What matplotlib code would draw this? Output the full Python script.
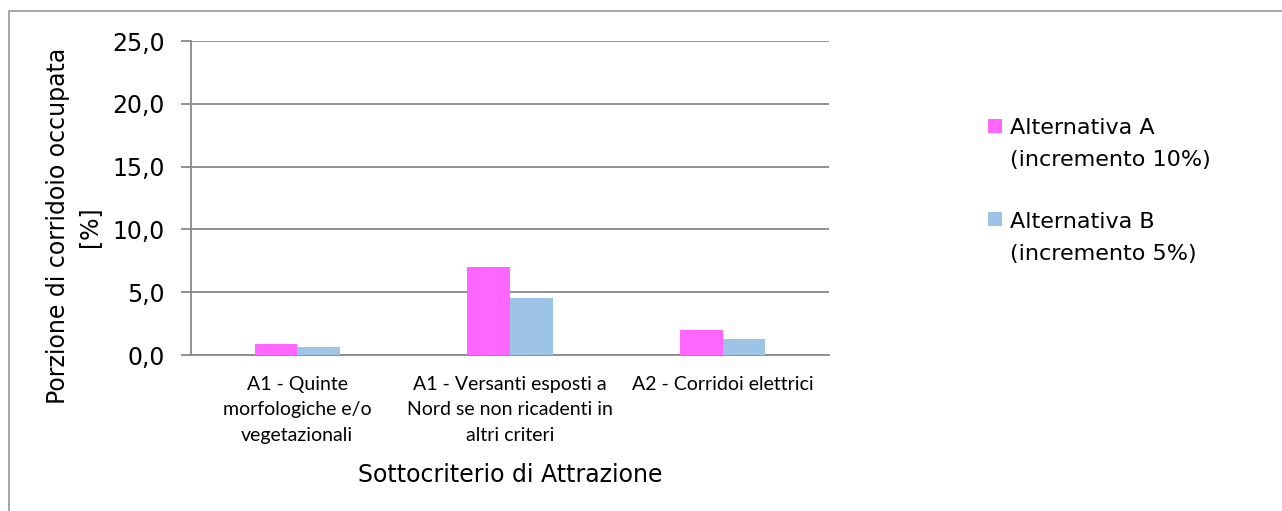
import matplotlib.pyplot as plt
import numpy as np
from matplotlib.patches import Rectangle
from matplotlib.legend_handler import HandlerPatch
from matplotlib.ticker import FuncFormatter

categorie = ["A1 - Quinte\nmorfologiche e/o\nvegetazionali",
             "A1 - Versanti esposti a\nNord se non ricadenti in\naltri criteri",
             "A2 - Corridoi elettrici"]
alt_a = [0.9, 7.0, 2.0]
alt_b = [0.6, 4.5, 1.3]
nomi = ["Alternativa A\n(incremento 10%)", "Alternativa B\n(incremento 5%)"]
colori = ["#FF66FF", "#9DC3E6"]
grigio = "#888888"


def quadrato(legend, orig_handle, xdescent, ydescent, width, height, fontsize):
    # quadratino allineato alla prima riga dell'etichetta
    lato = 0.63 * fontsize
    return Rectangle((-xdescent, 0.87 * fontsize), lato, lato)


fig = plt.figure(figsize=(12.82, 5.11), dpi=100)
ax = fig.add_axes([191 / 1282, 1 - 355 / 511, 638 / 1282, 314 / 511])

x = np.arange(len(categorie))
w = 0.2
ax.bar(x - w / 2, alt_a, w, color=colori[0], zorder=3)
ax.bar(x + w / 2, alt_b, w, color=colori[1], zorder=3)

ax.set_xlim(-0.5, len(categorie) - 0.5)
ax.set_ylim(0, 25)
ax.set_yticks(np.arange(0, 26, 5))
ax.yaxis.set_major_formatter(FuncFormatter(lambda v, p: f"{v:.1f}".replace(".", ",")))
ax.yaxis.grid(True, color=grigio, linewidth=1.3, zorder=0)
ax.set_axisbelow(True)

for s in ["top", "right"]:
    ax.spines[s].set_visible(False)
for s in ["left", "bottom"]:
    ax.spines[s].set_color(grigio)
    ax.spines[s].set_linewidth(1.3)

ax.tick_params(axis="y", colors=grigio, length=7, width=1.3, labelsize=17,
               labelcolor="black", pad=12)
ax.tick_params(axis="x", length=0, pad=15)
ax.set_xticks(x)
ax.set_xticklabels(categorie, fontfamily="Lato", fontsize=14, linespacing=1.6)

ax.set_ylabel("Porzione di corridoio occupata\n[%]", fontsize=17, labelpad=7.5,
              linespacing=1.4)
ax.yaxis.label.set_y(0.41)
ax.set_xlabel("Sottocriterio di Attrazione", fontsize=17, labelpad=14)

proxy = [Rectangle((0, 0), 1, 1, facecolor=c) for c in colori]
leg = fig.legend(proxy, nomi, loc="center left", bbox_to_anchor=(968 / 1282, 1 - 191 / 511),
                 frameon=False, fontsize=16, handlelength=0.7, handleheight=0.7,
                 handletextpad=0.3, labelspacing=1.86,
                 handler_map={Rectangle: HandlerPatch(patch_func=quadrato)})
for t in leg.get_texts():
    t.set_linespacing(1.77)

# cornice esterna del grafico
fig.patches.append(Rectangle((9 / 1282, -0.1), 1.2, 1.1 - 11 / 511,
                             transform=fig.transFigure, fill=False,
                             edgecolor="#A0A0A0", linewidth=1.3))

fig.savefig("out.png", dpi=100)
